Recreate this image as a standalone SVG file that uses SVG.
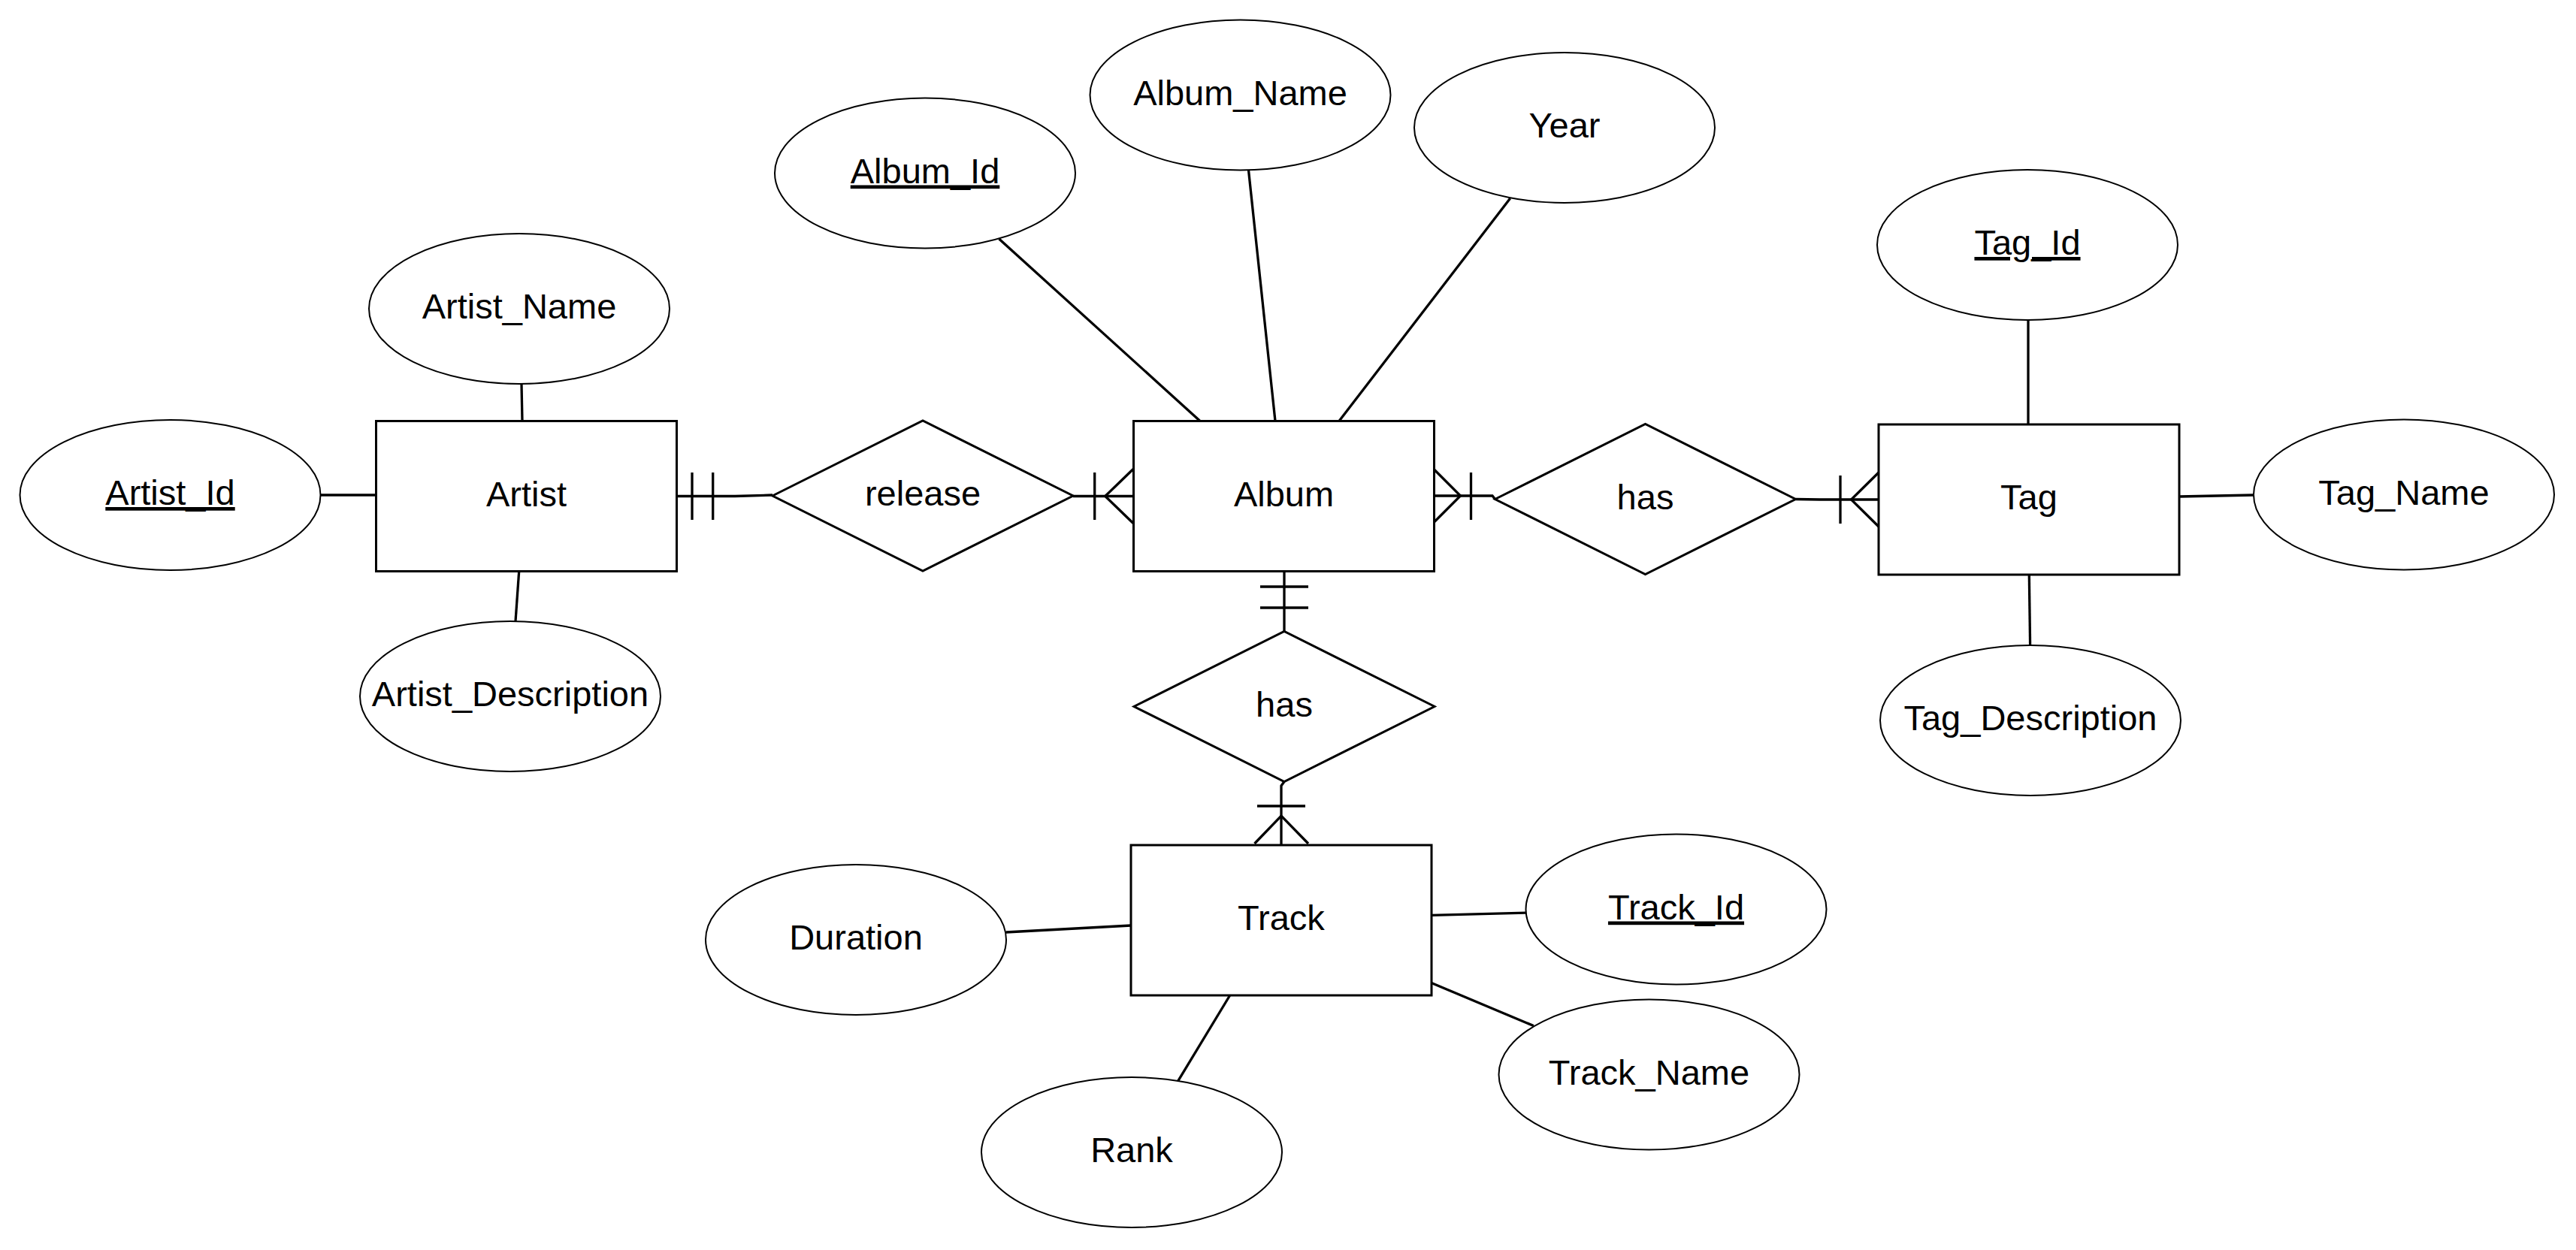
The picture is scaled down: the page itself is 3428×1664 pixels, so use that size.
<svg xmlns="http://www.w3.org/2000/svg" width="3428" height="1664" viewBox="0 0 3428 1664">
<style>
.bg{fill:#ffffff}
.ent{fill:#ffffff;stroke:#000000;stroke-width:3}
.rel{fill:#ffffff;stroke:#000000;stroke-width:3}
.att{fill:#ffffff;stroke:#000000;stroke-width:2}
.ln{fill:none;stroke:#000000;stroke-width:3.3}
text{font-family:"Liberation Sans",Arial,sans-serif;font-size:47px;fill:#000000;text-anchor:middle}
.key{text-decoration:underline}
</style>
<rect class="bg" x="0" y="0" width="3428" height="1664"/>
<g id="connectors">
<path class="ln" d="M426.5 659 L500.5 659"/>
<path class="ln" d="M694 511 L695 560.5"/>
<path class="ln" d="M690.7 760.5 L686 827"/>
<path class="ln" d="M1329.5 318 L1597 560.5"/>
<path class="ln" d="M1661.5 226.5 L1697 560.5"/>
<path class="ln" d="M2009.7 264 L1782 560.5"/>
<path class="ln" d="M2699 426 L2699 565"/>
<path class="ln" d="M2900 661 L2999 659"/>
<path class="ln" d="M2700.3 765 L2701.6 859"/>
<path class="ln" d="M1338.8 1241 L1505 1232"/>
<path class="ln" d="M1905 1218.4 L2030.6 1215.2"/>
<path class="ln" d="M1905 1308.4 L2040.8 1365.6"/>
<path class="ln" d="M1636.7 1325 L1567.3 1439.6"/>
<g id="artist-release">
<path class="ln" d="M900.5 660.5 L978 660.5 L1028 659"/>
<path class="ln" d="M921 629 L921 692 M948.7 629 L948.7 692"/>
</g>
<g id="release-album">
<path class="ln" d="M1428 660.5 L1508.5 660.5"/>
<path class="ln" d="M1456.7 629 L1456.7 692"/>
<path class="ln" d="M1508.5 624 L1470.7 660.5 L1508.5 697"/>
</g>
<g id="album-has1">
<path class="ln" d="M1908.5 660 L1986 660 L1989.5 664.5"/>
<path class="ln" d="M1957.5 629 L1957.5 692"/>
<path class="ln" d="M1908.5 625 L1943.5 660 L1908.5 695"/>
</g>
<g id="has1-tag">
<path class="ln" d="M2389.5 664.5 L2421 665 L2500 665"/>
<path class="ln" d="M2449 633 L2449 697"/>
<path class="ln" d="M2500 629 L2463.5 665 L2500 701"/>
</g>
<g id="album-has2">
<path class="ln" d="M1709 761 L1709 840.5"/>
<path class="ln" d="M1677 781 L1741 781 M1677 809 L1741 809"/>
</g>
<g id="has2-track">
<path class="ln" d="M1709 1040.5 L1705 1046 L1705 1125"/>
<path class="ln" d="M1673 1073 L1737 1073"/>
<path class="ln" d="M1669.5 1123 L1705 1086 L1741 1123"/>
</g>
</g>
<g id="Artist"><rect class="ent" x="500.5" y="560.5" width="400" height="200"/><text x="700.5" y="674">Artist</text></g>
<g id="Album"><rect class="ent" x="1508.5" y="560.5" width="400" height="200"/><text x="1708.5" y="674">Album</text></g>
<g id="Tag"><rect class="ent" x="2500" y="565" width="400" height="200"/><text x="2700" y="678">Tag</text></g>
<g id="Track"><rect class="ent" x="1505" y="1125" width="400" height="200"/><text x="1705" y="1238">Track</text></g>
<g id="release"><polygon class="rel" points="1028,660 1228,560 1428,660 1228,760"/><text x="1228" y="673">release</text></g>
<g id="has_album_tag"><polygon class="rel" points="1989.5,664.5 2189.5,564.5 2389.5,664.5 2189.5,764.5"/><text x="2189.5" y="677.5">has</text></g>
<g id="has_album_track"><polygon class="rel" points="1509,940.5 1709,840.5 1909,940.5 1709,1040.5"/><text x="1709" y="953.5">has</text></g>
<g id="Artist_Id"><ellipse class="att" cx="226.5" cy="659" rx="200" ry="100"/><text class="key" x="226.5" y="672">Artist_Id</text></g>
<g id="Artist_Name"><ellipse class="att" cx="691" cy="411" rx="200" ry="100"/><text x="691" y="424">Artist_Name</text></g>
<g id="Artist_Description"><ellipse class="att" cx="679" cy="927" rx="200" ry="100"/><text x="679" y="940">Artist_Description</text></g>
<g id="Album_Id"><ellipse class="att" cx="1231" cy="230.5" rx="200" ry="100"/><text class="key" x="1231" y="243.5">Album_Id</text></g>
<g id="Album_Name"><ellipse class="att" cx="1650.5" cy="126.5" rx="200" ry="100"/><text x="1650.5" y="139.5">Album_Name</text></g>
<g id="Year"><ellipse class="att" cx="2082" cy="170" rx="200" ry="100"/><text x="2082" y="183">Year</text></g>
<g id="Tag_Id"><ellipse class="att" cx="2698" cy="326" rx="200" ry="100"/><text class="key" x="2698" y="339">Tag_Id</text></g>
<g id="Tag_Name"><ellipse class="att" cx="3199" cy="658.5" rx="200" ry="100"/><text x="3199" y="671.5">Tag_Name</text></g>
<g id="Tag_Description"><ellipse class="att" cx="2702" cy="959" rx="200" ry="100"/><text x="2702" y="972">Tag_Description</text></g>
<g id="Duration"><ellipse class="att" cx="1139" cy="1251" rx="200" ry="100"/><text x="1139" y="1264">Duration</text></g>
<g id="Track_Id"><ellipse class="att" cx="2230.5" cy="1210.5" rx="200" ry="100"/><text class="key" x="2230.5" y="1223.5">Track_Id</text></g>
<g id="Track_Name"><ellipse class="att" cx="2194.5" cy="1430.5" rx="200" ry="100"/><text x="2194.5" y="1443.5">Track_Name</text></g>
<g id="Rank"><ellipse class="att" cx="1506" cy="1534" rx="200" ry="100"/><text x="1506" y="1547">Rank</text></g>
</svg>
